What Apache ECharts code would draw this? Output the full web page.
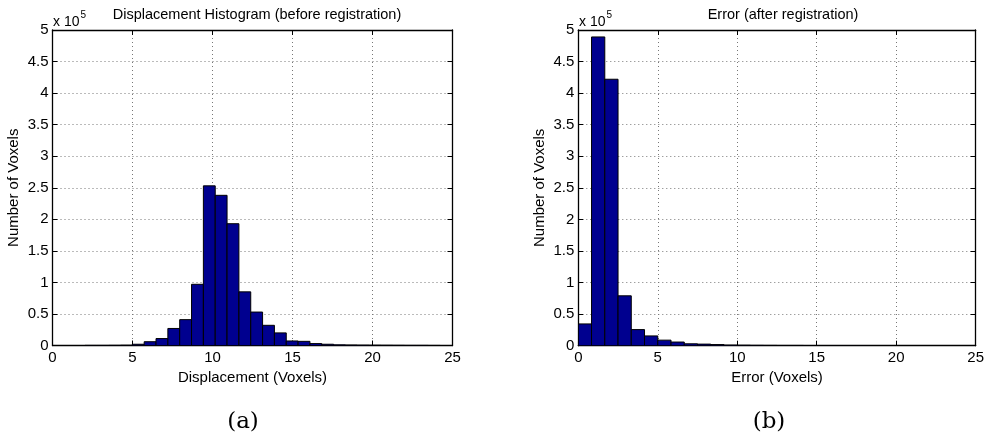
<!DOCTYPE html>
<html>
<head>
<meta charset="utf-8">
<script src="https://cdn.jsdelivr.net/npm/echarts@6/dist/echarts.min.js"></script>
<style>
html,body{margin:0;padding:0;background:#fff;}
#chart{width:987px;height:438px;}
</style>
</head>
<body>
<div id="chart"></div>
<script>
// ---- Data ----
// Left: displacement histogram (before registration), 30 bins
var leftBinStart = 2.03;
var leftBinWidth = 0.74;
var leftCounts = [200, 200, 300, 500, 2000, 6000, 11000, 27000, 41000, 97000,
                  253000, 238000, 193000, 85000, 53000, 32000, 20000, 7200, 6600, 3000,
                  2000, 1000, 800, 600, 500, 400, 300, 200, 200, 100];
// Right: error histogram (after registration), 30 bins over [0,25]
var rightBinStart = 0;
var rightBinWidth = 25 / 30;
var rightCounts = [34500, 489000, 422000, 79000, 25500, 15500, 8800, 5800, 3000, 2500,
                   1800, 1000, 800, 600, 500, 400, 400, 300, 300, 200,
                   200, 200, 100, 100, 100, 100, 50, 50, 50, 50];
var xTicks = [0, 5, 10, 15, 20, 25];
var yTicks = [0, 0.5, 1, 1.5, 2, 2.5, 3, 3.5, 4, 4.5, 5]; // x 10^5

var titles = ['Displacement Histogram (before registration)', 'Error (after registration)'];
var xNames = ['Displacement (Voxels)', 'Error (Voxels)'];
var yName = 'Number of Voxels';
var panelLabels = ['(a)', '(b)'];

function toBins(start, width, counts) {
  return counts.map(function (c, i) {
    return [start + i * width, start + (i + 1) * width, c];
  });
}

var FONT = 'Liberation Sans';
var FS = 15;
var chart = echarts.init(document.getElementById('chart'));

function renderItem(params, api) {
  var x0 = api.value(0), x1 = api.value(1), y = api.value(2);
  var p0 = api.coord([x0, y]);
  var p1 = api.coord([x1, 0]);
  return {
    type: 'rect',
    shape: { x: p0[0], y: p0[1], width: p1[0] - p0[0], height: p1[1] - p0[1] },
    style: { fill: '#00008F', stroke: '#000', lineWidth: 1 }
  };
}

var grids = [
  { left: 52.5, top: 30, width: 400, height: 315.5 },
  { left: 578.3, top: 30, width: 400.7, height: 315.7 }
];

var xAxes = [], yAxes = [];
for (var g = 0; g < 2; g++) {
  xAxes.push({
    type: 'value', gridIndex: g, position: 'bottom', min: 0, max: 25, interval: 5,
    name: xNames[g], nameLocation: 'middle', nameGap: 22,
    nameTextStyle: { fontFamily: FONT, fontSize: FS, color: '#000' },
    axisLine: { onZero: false, lineStyle: { color: '#000', width: 1.3 } },
    axisTick: { inside: true, length: 5, lineStyle: { color: '#000' } },
    axisLabel: { fontFamily: FONT, fontSize: FS, color: '#000', margin: 5 },
    splitLine: { show: true, lineStyle: { color: '#777', type: [1, 3], width: 1 } }
  });
  xAxes.push({
    type: 'value', gridIndex: g, position: 'top', min: 0, max: 25, interval: 5,
    axisLine: { onZero: false, lineStyle: { color: '#000', width: 1.3 } },
    axisTick: { inside: true, length: 5, lineStyle: { color: '#000' } },
    axisLabel: { show: false }, splitLine: { show: false }
  });
  yAxes.push({
    type: 'value', gridIndex: g, position: 'left', min: 0, max: 500000, interval: 50000,
    name: yName, nameLocation: 'middle', nameGap: 31,
    nameTextStyle: { fontFamily: FONT, fontSize: FS, color: '#000' },
    axisLine: { onZero: false, lineStyle: { color: '#000', width: 1.3 } },
    axisTick: { inside: true, length: 5, lineStyle: { color: '#000' } },
    axisLabel: { fontFamily: FONT, fontSize: FS, color: '#000', margin: 4,
      formatter: function (v) { return String(Math.round(v / 1e4) / 10); } },
    splitLine: { show: true, lineStyle: { color: '#777', type: [1, 3], width: 1 } }
  });
  yAxes.push({
    type: 'value', gridIndex: g, position: 'right', min: 0, max: 500000, interval: 50000,
    axisLine: { onZero: false, lineStyle: { color: '#000', width: 1.3 } },
    axisTick: { inside: true, length: 5, lineStyle: { color: '#000' } },
    axisLabel: { show: false }, splitLine: { show: false }
  });
}

var supRich = {
  a: { fontFamily: FONT, fontSize: 14, fill: '#000', verticalAlign: 'bottom' },
  b: { fontFamily: FONT, fontSize: 10, fill: '#000', padding: [0, 0, 9, 1], verticalAlign: 'bottom' }
};

var option = {
  backgroundColor: '#fff',
  animation: false,
  title: [
    { text: titles[0], left: 252, top: 2, textAlign: 'center',
      textStyle: { fontFamily: FONT, fontSize: 14.5, fontWeight: 'normal', color: '#000' } },
    { text: titles[1], left: 778, top: 2, textAlign: 'center',
      textStyle: { fontFamily: FONT, fontSize: 14.5, fontWeight: 'normal', color: '#000' } },
    { text: panelLabels[0], left: 238, top: 406, textAlign: 'center',
      textStyle: { fontFamily: 'DejaVu Serif', fontSize: 23, fontWeight: 'normal', color: '#000' } },
    { text: panelLabels[1], left: 764, top: 406, textAlign: 'center',
      textStyle: { fontFamily: 'DejaVu Serif', fontSize: 23, fontWeight: 'normal', color: '#000' } }
  ],
  graphic: [
    { type: 'text', left: 53, top: 10, style: { text: '{a|x 10}{b|5}', rich: supRich } },
    { type: 'text', left: 579, top: 10, style: { text: '{a|x 10}{b|5}', rich: supRich } }
  ],
  grid: grids,
  xAxis: xAxes,
  yAxis: yAxes,
  series: [
    { type: 'custom', xAxisIndex: 0, yAxisIndex: 0, renderItem: renderItem,
      encode: { x: [0, 1], y: 2 }, data: toBins(leftBinStart, leftBinWidth, leftCounts), clip: true },
    { type: 'custom', xAxisIndex: 2, yAxisIndex: 2, renderItem: renderItem,
      encode: { x: [0, 1], y: 2 }, data: toBins(rightBinStart, rightBinWidth, rightCounts), clip: true }
  ]
};
chart.setOption(option);
</script>
</body>
</html>
